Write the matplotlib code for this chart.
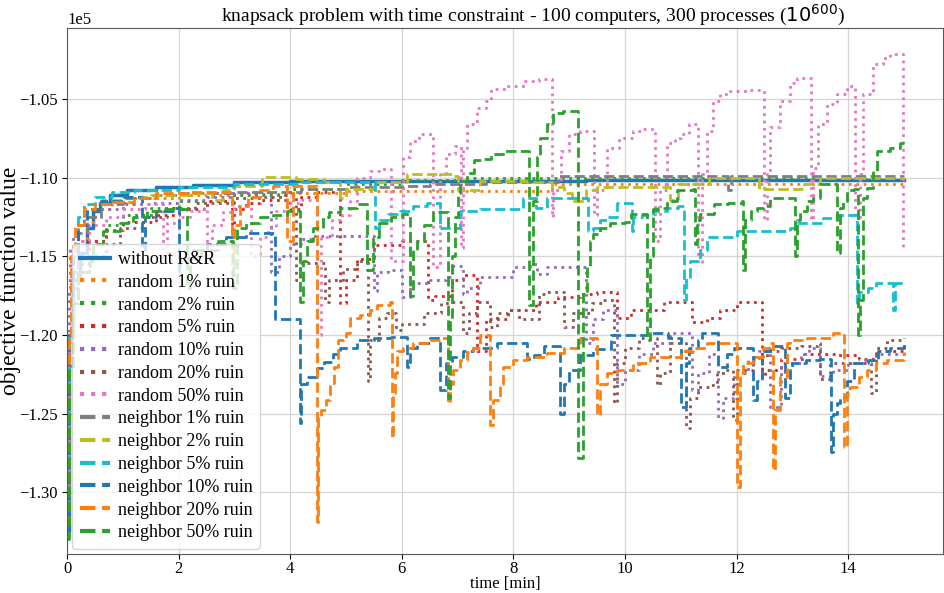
#data visualization
import numpy as np
import matplotlib
matplotlib.use('Agg')
import matplotlib.pyplot as plt

plt.rcParams['font.family'] = 'serif'
plt.rcParams['font.serif'] = ['Liberation Serif', 'DejaVu Serif']

########### data (time in min, value in units of 1e5) ####################################
labels = ['without R&R', 'random 1% ruin', 'random 2% ruin', 'random 5% ruin',
          'random 10% ruin', 'random 20% ruin', 'random 50% ruin',
          'neighbor 1% ruin', 'neighbor 2% ruin', 'neighbor 5% ruin',
          'neighbor 10% ruin', 'neighbor 20% ruin', 'neighbor 50% ruin']

# without R&R
t_none = [0, 0.03, 0.1, 0.23, 0.36, 0.47, 0.59, 0.77, 1.07, 1.6, 2.26, 3.0, 4.0, 5.5, 9.3, 15]
v_none = [-1.325, -1.2, -1.165, -1.148, -1.132, -1.121, -1.116, -1.111, -1.108, -1.1057, -1.1044,
          -1.103, -1.102, -1.1018, -1.1012, -1.1012]

# random ruin
t_r1 = [0, 0.03, 0.1, 0.2, 0.35, 0.5, 0.8, 1.2, 2.0, 3.0, 4.0, 5.0, 8.7, 15]
v_r1 = [-1.3, -1.2, -1.16, -1.14, -1.128, -1.12, -1.116, -1.113, -1.111, -1.1105, -1.1095, -1.1085,
        -1.104, -1.104]

t_r2 = [0, 0.03, 0.1, 0.2, 0.4, 0.7, 1.0, 1.5, 2.0, 3.0, 4.0, 5.0, 6.0, 7.0, 15]
v_r2 = [-1.31, -1.22, -1.18, -1.155, -1.14, -1.13, -1.124, -1.119, -1.115, -1.111, -1.107, -1.104,
        -1.1015, -1.1003, -1.1003]

t_r5 = [0, 0.03, 0.1, 0.2, 0.4, 0.7, 1.0, 1.6, 2.0, 2.5,
        2.95, 3.0, 3.2, 3.46, 4.0, 4.2, 4.5, 4.9, 5.0, 5.2,
        5.5, 6.0, 6.47, 6.6, 6.9, 7.1, 7.35, 7.5, 7.9, 8.4,
        8.8, 9.2, 9.5, 9.85, 9.9, 10.1, 10.7, 11.2, 11.47, 11.7,
        12.0, 12.45, 12.5, 12.8, 13.2, 13.8, 14.2, 14.5, 15]
v_r5 = [-1.31, -1.22, -1.17, -1.15, -1.14, -1.133, -1.128, -1.124, -1.12, -1.115,
        -1.135, -1.12, -1.116, -1.114, -1.12, -1.112, -1.109, -1.18, -1.165, -1.152,
        -1.143, -1.14, -1.178, -1.175, -1.165, -1.162, -1.21, -1.19, -1.184, -1.179,
        -1.176, -1.174, -1.173, -1.19, -1.189, -1.184, -1.179, -1.192, -1.189, -1.184,
        -1.179, -1.227, -1.222, -1.215, -1.212, -1.213, -1.215, -1.21, -1.205]

t_r10 = [0, 0.03, 0.06, 0.1, 0.2, 0.3, 0.5, 1.0, 1.5, 2.0,
         2.5, 3.0, 3.4, 3.65, 3.8, 4.0, 4.2, 4.4, 5.5, 5.55,
         5.75, 6.0, 6.15, 6.5, 6.8, 6.9, 7.1, 7.17, 7.4, 8.0,
         8.3, 8.43, 8.6, 9.3, 9.43, 9.6, 9.85, 10.0, 10.25, 10.5,
         10.8, 11.2, 11.3, 11.5, 11.67, 11.75, 11.95, 12.2, 12.4, 12.6,
         12.8, 13.15, 13.3, 13.5, 13.72, 14.0, 14.25, 14.5, 15]
v_r10 = [-1.30, -1.17, -1.145, -1.138, -1.13, -1.125, -1.12, -1.117, -1.116, -1.114,
         -1.112, -1.11, -1.109, -1.16, -1.15, -1.142, -1.139, -1.137, -1.172, -1.16,
         -1.159, -1.176, -1.167, -1.165, -1.163, -1.156, -1.174, -1.17, -1.163, -1.157,
         -1.155, -1.161, -1.157, -1.205, -1.19, -1.184, -1.231, -1.222, -1.212, -1.205,
         -1.199, -1.235, -1.224, -1.212, -1.253, -1.24, -1.224, -1.216, -1.21, -1.246,
         -1.218, -1.212, -1.208, -1.226, -1.222, -1.218, -1.216, -1.212, -1.211]

t_r20 = [0, 0.03, 0.1, 0.2, 0.4, 0.7, 0.95, 1.36, 1.8, 2.3,
         3.0, 3.5, 3.9, 4.1, 4.17, 4.62, 4.7, 4.95, 5.2, 5.37,
         5.4, 5.43, 5.6, 5.73, 5.9, 6.0, 6.4, 6.7, 6.9, 7.1,
         7.2, 7.35, 7.58, 7.7, 7.9, 8.1, 8.45, 8.6, 8.9, 9.07,
         9.4, 9.6, 9.8, 9.85, 10.0, 10.25, 10.57, 10.63, 10.8, 11.1,
         11.17, 11.3, 11.5, 11.65, 11.8, 11.93, 12.0, 12.3, 12.55, 12.8,
         13.15, 13.45, 13.5, 13.67, 14.4, 14.5, 14.7, 15]
v_r20 = [-1.31, -1.22, -1.18, -1.16, -1.15, -1.142, -1.132, -1.125, -1.119, -1.116,
         -1.113, -1.112, -1.111, -1.165, -1.154, -1.179, -1.165, -1.158, -1.153, -1.151,
         -1.229, -1.203, -1.189, -1.186, -1.197, -1.193, -1.186, -1.18, -1.179, -1.199,
         -1.186, -1.179, -1.195, -1.186, -1.184, -1.19, -1.174, -1.173, -1.195, -1.186,
         -1.18, -1.178, -1.243, -1.218, -1.208, -1.202, -1.232, -1.224, -1.205, -1.259,
         -1.24, -1.233, -1.232, -1.224, -1.222, -1.254, -1.222, -1.214, -1.21, -1.208,
         -1.207, -1.205, -1.228, -1.218, -1.237, -1.208, -1.203, -1.202]

t_r50 = [0, 0.03, 0.1, 0.2, 0.4, 0.7, 1.0, 1.4, 1.72, 1.8,
         2.0, 2.2, 2.45, 2.5, 2.6, 2.8, 3.0, 3.3, 3.46, 3.6,
         3.75, 3.94, 4.2, 4.48, 4.55, 4.75, 4.93, 5.07, 5.2, 5.43,
         5.6, 5.8, 6.02, 6.15, 6.3, 6.56, 6.68, 6.8, 6.95, 7.06,
         7.1, 7.17, 7.35, 7.5, 7.6, 7.9, 8.2, 8.45, 8.69, 8.71,
         8.85, 9.0, 9.2, 9.44, 9.5, 9.68, 9.9, 10.15, 10.3, 10.54,
         10.63, 10.75, 10.9, 11.0, 11.15, 11.3, 11.38, 11.47, 11.58, 11.7,
         11.88, 12.2, 12.49, 12.54, 12.6, 12.78, 12.96, 13.08, 13.33, 13.37,
         13.45, 13.62, 13.8, 13.98, 14.12, 14.21, 14.27, 14.45, 14.62, 14.75,
         14.98]
v_r50 = [-1.30, -1.2, -1.16, -1.14, -1.13, -1.125, -1.12, -1.117, -1.15, -1.129,
         -1.125, -1.121, -1.119, -1.152, -1.13, -1.122, -1.118, -1.15, -1.138, -1.132,
         -1.121, -1.116, -1.114, -1.2, -1.138, -1.127, -1.124, -1.115, -1.1, -1.0956,
         -1.0943, -1.153, -1.087, -1.0765, -1.072, -1.157, -1.0975, -1.085, -1.08, -1.145,
         -1.081, -1.0657, -1.0556, -1.051, -1.0435, -1.0416, -1.0385, -1.0372, -1.125, -1.108,
         -1.083, -1.072, -1.07, -1.124, -1.108, -1.081, -1.075, -1.07, -1.069, -1.14,
         -1.108, -1.078, -1.075, -1.072, -1.066, -1.1545, -1.0975, -1.07, -1.051, -1.0467,
         -1.0448, -1.0442, -1.127, -1.0975, -1.068, -1.051, -1.04, -1.0366, -1.127, -1.094,
         -1.066, -1.053, -1.047, -1.042, -1.125, -1.0975, -1.0467, -1.0277, -1.0239, -1.0213,
         -1.145]

# neighbor ruin
t_n1 = [0, 0.03, 0.1, 0.2, 0.35, 0.6, 1.0, 1.5, 2.0, 3.0, 4.2, 5.0, 6.0, 6.5, 7.5, 8.8, 11.84, 11.9, 15]
v_n1 = [-1.31, -1.2, -1.16, -1.135, -1.125, -1.117, -1.113, -1.111, -1.11, -1.109, -1.107, -1.106,
        -1.105, -1.104, -1.103, -1.0987, -1.108, -1.0987, -1.0987]

t_n2 = [0, 0.03, 0.1, 0.2, 0.3, 0.6, 1.0, 1.5, 2.2, 2.6,
        2.8, 3.0, 3.5, 4.1, 4.6, 4.9, 5.0, 5.5, 6.1, 6.9,
        7.0, 7.4, 8.25, 8.7, 8.9, 9.05, 9.3, 9.5, 10.8, 10.95,
        11.5, 12.4, 13.2, 13.5, 15]
v_n2 = [-1.32, -1.2, -1.15, -1.13, -1.12, -1.114, -1.112, -1.111, -1.11, -1.114,
        -1.108, -1.105, -1.0995, -1.101, -1.103, -1.113, -1.107, -1.103, -1.0975, -1.099,
        -1.108, -1.102, -1.103, -1.106, -1.11, -1.115, -1.108, -1.106, -1.114, -1.104,
        -1.1005, -1.107, -1.104, -1.1005, -1.1]

t_n5 = [0, 0.03, 0.1, 0.2, 0.3, 0.5, 0.8, 1.2, 2.0, 3.0,
        4.2, 5.0, 5.52, 5.6, 5.75, 5.97, 6.2, 6.45, 6.68, 7.04,
        7.4, 8.17, 8.4, 8.6, 9.34, 9.43, 9.55, 9.68, 9.85, 10.12,
        10.15, 10.3, 10.5, 10.75, 10.95, 11.06, 11.1, 11.16, 11.35, 11.47,
        12.0, 12.96, 13.08, 13.55, 13.8, 14.16, 14.2, 14.35, 14.5, 14.8,
        14.83, 15]
v_n5 = [-1.31, -1.2, -1.15, -1.125, -1.117, -1.112, -1.109, -1.108, -1.106, -1.104,
        -1.103, -1.1025, -1.132, -1.127, -1.123, -1.121, -1.118, -1.116, -1.132, -1.121,
        -1.12, -1.113, -1.119, -1.113, -1.134, -1.132, -1.127, -1.125, -1.116, -1.134,
        -1.125, -1.124, -1.121, -1.119, -1.118, -1.178, -1.165, -1.153, -1.146, -1.138,
        -1.1336, -1.1317, -1.1286, -1.1254, -1.124, -1.18, -1.173, -1.17, -1.167, -1.184,
        -1.167, -1.167]

t_n10 = [0, 0.03, 0.1, 0.2, 0.35, 0.6, 1.0, 1.35, 1.4, 1.6,
         1.9, 2.0, 2.03, 2.25, 2.5, 2.85, 3.2, 3.73, 4.17, 4.2,
         4.3, 4.48, 4.6, 4.77, 4.9, 5.2, 5.5, 5.8, 6.1, 6.15,
         6.27, 6.5, 6.68, 6.8, 6.9, 7.1, 7.27, 7.7, 8.25, 8.37,
         8.55, 8.84, 8.9, 9.0, 9.2, 9.43, 9.75, 10.4, 10.77, 11.0,
         11.1, 11.15, 11.3, 11.38, 11.67, 11.83, 11.95, 12.3, 12.37, 12.45,
         12.6, 12.87, 12.96, 13.0, 13.25, 13.5, 13.7, 13.73, 13.8, 13.85,
         13.98, 14.1, 14.35, 14.53, 14.75, 15]
v_n10 = [-1.32, -1.2, -1.15, -1.13, -1.12, -1.115, -1.112, -1.146, -1.125, -1.121,
         -1.119, -1.16, -1.151, -1.146, -1.142, -1.138, -1.135, -1.19, -1.256, -1.231,
         -1.227, -1.221, -1.217, -1.212, -1.208, -1.203, -1.202, -1.2015, -1.2205, -1.208,
         -1.205, -1.202, -1.235, -1.218, -1.214, -1.21, -1.208, -1.205, -1.215, -1.213,
         -1.207, -1.25, -1.231, -1.222, -1.213, -1.209, -1.2002, -1.199, -1.2022, -1.246,
         -1.218, -1.208, -1.203, -1.199, -1.2205, -1.212, -1.208, -1.2415, -1.229, -1.21,
         -1.207, -1.24, -1.2225, -1.218, -1.216, -1.215, -1.2745, -1.25, -1.243, -1.2395,
         -1.229, -1.218, -1.216, -1.21, -1.208, -1.205]

t_n20 = [0, 0.03, 0.08, 0.15, 0.3, 0.5, 0.8, 1.2, 1.6, 2.2,
         2.95, 3.0, 3.1, 3.25, 3.46, 3.7, 3.95, 4.05, 4.48, 4.5,
         4.55, 4.65, 4.72, 4.78, 4.85, 5.0, 5.07, 5.25, 5.43, 5.55,
         5.79, 5.82, 5.84, 5.88, 5.92, 6.02, 6.1, 6.2, 6.45, 6.68,
         6.83, 6.86, 6.92, 7.04, 7.17, 7.28, 7.4, 7.58, 7.63, 7.76,
         7.82, 8.0, 8.25, 8.6, 8.9, 9.14, 9.2, 9.5, 9.55, 9.68,
         9.85, 10.15, 10.45, 11.0, 11.22, 11.47, 12.0, 12.06, 12.12, 12.3,
         12.48, 12.58, 12.65, 12.69, 12.78, 12.9, 12.96, 13.26, 13.73, 13.92,
         13.98, 14.03, 14.2, 14.33, 14.5, 14.7, 15]
v_n20 = [-1.32, -1.2, -1.15, -1.13, -1.12, -1.117, -1.1155, -1.113, -1.11, -1.109,
         -1.162, -1.13, -1.118, -1.112, -1.108, -1.105, -1.14, -1.105, -1.319, -1.2523,
         -1.248, -1.2415, -1.2307, -1.2205, -1.2034, -1.199, -1.1895, -1.1876, -1.1844, -1.1812,
         -1.1793, -1.2656, -1.237, -1.224, -1.21, -1.2085, -1.208, -1.205, -1.203, -1.202,
         -1.243, -1.231, -1.2225, -1.216, -1.211, -1.208, -1.2, -1.2575, -1.2415, -1.231,
         -1.2205, -1.216, -1.214, -1.2117, -1.2085, -1.208, -1.202, -1.251, -1.231, -1.2244,
         -1.2225, -1.218, -1.214, -1.21, -1.208, -1.2053, -1.297, -1.2244, -1.218, -1.214,
         -1.208, -1.2053, -1.286, -1.248, -1.227, -1.2053, -1.203, -1.202, -1.199, -1.271,
         -1.237, -1.233, -1.227, -1.2225, -1.218, -1.216, -1.211]

t_n50 = [0, 0.03, 0.1, 0.2, 0.41, 0.47, 0.65, 0.95, 1.18, 1.43,
         1.72, 2.15, 2.2, 2.4, 2.7, 2.97, 3.05, 3.2, 3.45, 3.7,
         3.95, 4.17, 4.23, 4.3, 4.4, 4.58, 4.7, 4.9, 5.2, 5.38,
         5.48, 5.6, 5.8, 6.0, 6.15, 6.2, 6.27, 6.4, 6.55, 6.83,
         6.86, 6.9, 6.95, 7.0, 7.05, 7.17, 7.3, 7.45, 7.6, 7.85,
         8.28, 8.35, 8.42, 8.47, 8.6, 8.71, 8.89, 9.15, 9.25, 9.32,
         9.37, 9.43, 9.55, 9.73, 10.0, 10.1, 10.4, 10.45, 10.5, 10.6,
         10.75, 10.93, 11.22, 11.25, 11.29, 11.35, 11.6, 11.85, 12.1, 12.12,
         12.15, 12.25, 12.37, 12.47, 12.6, 13.05, 13.08, 13.14, 13.26, 13.37,
         13.5, 13.8, 13.85, 13.91, 13.98, 14.1, 14.18, 14.21, 14.27, 14.33,
         14.45, 14.52, 14.75, 14.93, 15]
v_n50 = [-1.33, -1.22, -1.18, -1.16, -1.153, -1.142, -1.134, -1.129, -1.125, -1.121,
         -1.12, -1.17, -1.151, -1.146, -1.14, -1.17, -1.132, -1.129, -1.125, -1.124,
         -1.121, -1.179, -1.153, -1.14, -1.132, -1.125, -1.122, -1.119, -1.1165, -1.159,
         -1.138, -1.129, -1.125, -1.123, -1.175, -1.146, -1.14, -1.13, -1.122, -1.24,
         -1.19, -1.15, -1.125, -1.11, -1.102, -1.097, -1.089, -1.088, -1.085, -1.083,
         -1.181, -1.1146, -1.087, -1.075, -1.066, -1.059, -1.0575, -1.278, -1.172, -1.157,
         -1.14, -1.1356, -1.132, -1.129, -1.1285, -1.123, -1.2035, -1.15, -1.12, -1.119,
         -1.1146, -1.108, -1.107, -1.142, -1.127, -1.123, -1.1165, -1.116, -1.1146, -1.159,
         -1.127, -1.121, -1.119, -1.118, -1.1127, -1.15, -1.127, -1.121, -1.1146, -1.1127,
         -1.104, -1.148, -1.119, -1.1146, -1.108, -1.107, -1.20, -1.178, -1.1127, -1.1063,
         -1.0956, -1.083, -1.081, -1.078, -1.0765]

times = [t_none, t_r1, t_r2, t_r5, t_r10, t_r20, t_r50, t_n1, t_n2, t_n5, t_n10, t_n20, t_n50]
values = [v_none, v_r1, v_r2, v_r5, v_r10, v_r20, v_r50, v_n1, v_n2, v_n5, v_n10, v_n20, v_n50]

########### styles #################
cols = ['C0', 'C1', 'C2', 'C3', 'C4', 'C5', 'C6', 'C7', 'C8', 'C9', 'C0', 'C1', 'C2']
styles = ['-'] + [':'] * 6 + ['--'] * 6

fig = plt.figure(figsize=(9.44, 5.93), dpi=100)
ax = fig.add_axes([0.071, 0.0658, 0.928, 0.8865])

for t, v, lab, col, ls in zip(times, values, labels, cols, styles):
    lw = 2.5 if ls == '-' else 2.0
    ax.plot(t, np.array(v) * 1e5, drawstyle='steps-post', color=col, linestyle=ls,
            linewidth=lw, label=lab)

ax.set_xlim(0, 15.7)
ax.set_ylim(-133930, -100500)
ax.set_xticks(np.arange(0, 16, 2))
ax.ticklabel_format(axis='y', style='sci', scilimits=(0, 0))
ax.yaxis.get_offset_text().set_fontsize(12)
ax.tick_params(labelsize=12)
ax.tick_params(axis='x', pad=1.5)
ax.grid(True, color='#d5d5d5', linewidth=0.9)
ax.set_axisbelow(True)
for sp in ax.spines.values():
    sp.set_color('0.35')

ax.set_title('knapsack problem with time constraint - 100 computers, 300 processes ($10^{600}$)',
             fontsize=14, x=0.532, pad=3)
ax.set_ylabel('objective function value', fontsize=17)
ax.yaxis.set_label_coords(-0.053, 0.52)
ax.set_xlabel('time [min]', fontsize=12)
ax.xaxis.set_label_coords(0.5, -0.042)

leg = ax.legend(loc='lower left', fontsize=13, labelspacing=0.32, handlelength=1.7,
                handletextpad=0.4, borderaxespad=0.3)
for ln in leg.get_lines():
    ln.set_linewidth(3)

fig.savefig('out.png', dpi=100)
